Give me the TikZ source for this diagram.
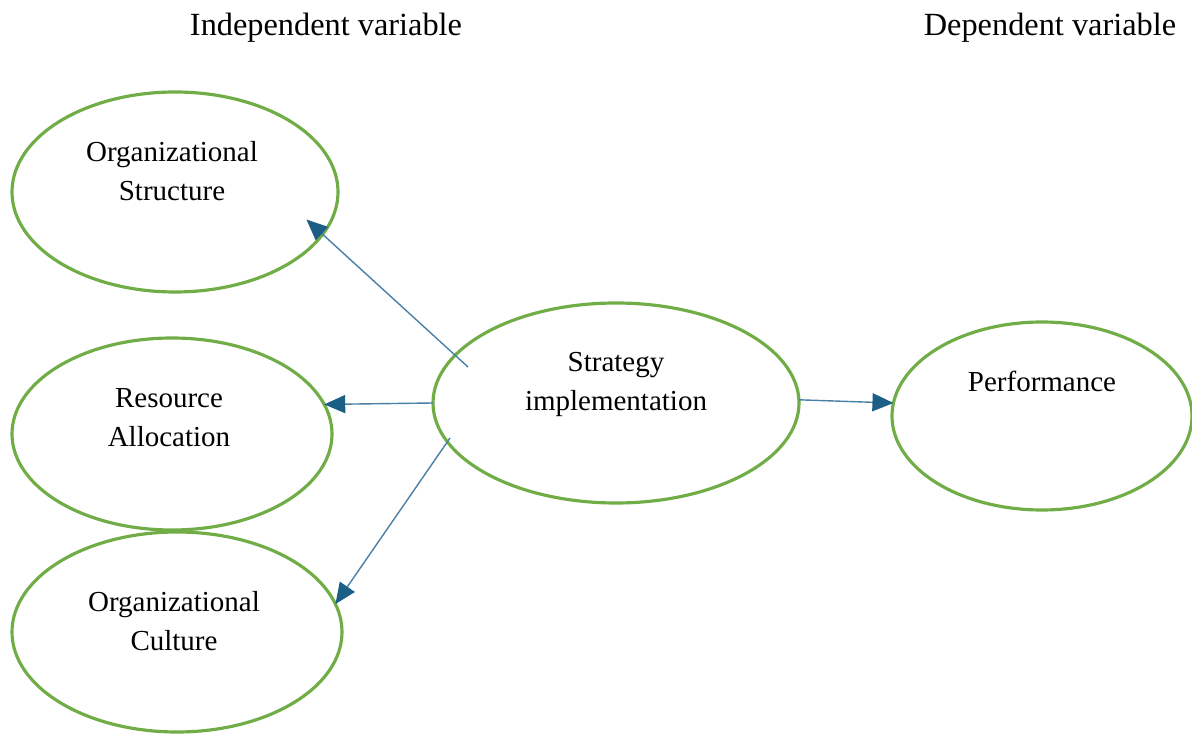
\documentclass[tikz,border=0pt]{standalone}
\usepackage{fontspec}
\setmainfont{Liberation Serif}
\usepackage{xcolor}
\usetikzlibrary{shapes.geometric,arrows.meta,calc}
\definecolor{ovalgreen}{RGB}{112,173,71}
\definecolor{linkblue}{RGB}{74,127,166}
\definecolor{tipblue}{RGB}{27,94,134}

\begin{document}
\begin{tikzpicture}
        \tikzset{
    oval/.style={draw=ovalgreen, line width=1.8pt, ellipse, inner sep=0pt, outer sep=0pt},
    label/.style={align=center, font=\fontsize{16.5}{22.2}\selectfont},
    heading/.style={font=\fontsize{18.4}{22}\selectfont},
    link/.style={draw=linkblue, line width=0.8pt, -{Triangle[length=0.42cm, width=0.36cm, color=tipblue]}},
        }
        \useasboundingbox (0,0) rectangle (23.84,14.66);

        % Headings above the two columns.
        \node[heading] (indep) at (6.52,14.1) {Independent variable};
        \node[heading] (dep)   at (21.0,14.1) {Dependent variable};

        % The ovals.
        \node[oval, minimum width=6.52cm, minimum height=4.0cm]  (struct) at (3.5,10.82) {};
        \node[oval, minimum width=6.4cm,  minimum height=3.84cm] (res)    at (3.44,5.98) {};
        \node[oval, minimum width=6.6cm,  minimum height=4.0cm]  (cult)   at (3.54,2.02) {};
        \node[oval, minimum width=7.32cm, minimum height=4.0cm]  (strat)  at (12.32,6.6) {};
        \node[oval, minimum width=6.0cm,  minimum height=3.76cm] (perf)   at (20.84,6.34) {};

        % Texts, set a little above the middle of each oval.
        \node[label] (struct-txt) at ($(struct)+(-0.06,0.42)$) {Organizational\\Structure};
        \node[label] (res-txt)    at ($(res)+(-0.06,0.32)$)    {Resource\\Allocation};
        \node[label] (cult-txt)   at ($(cult)+(-0.06,0.22)$)   {Organizational\\Culture};
        \node[label] (strat-txt)  at ($(strat)+(0,0.38)$)  {Strategy\\implementation};
        \node[label] (perf-txt)   at ($(perf)+(0,0.7)$)    {Performance};

        % Free ends of the arrows, inside the middle oval.
        \coordinate (to-struct) at ($(strat)+(-2.96,0.72)$);
        \coordinate (to-cult)   at ($(strat)+(-3.32,-0.7)$);

        % Draw the arrows last.
        \draw[link, shorten >=-0.44cm] (to-struct) -- (struct.-16.8);
        \draw[link] (strat.west) -- (res.11);
        \draw[link] (to-cult) -- (cult.10.3);
        \draw[link] (strat.1.5) -- (perf.175);
      \end{tikzpicture}
\end{document}
